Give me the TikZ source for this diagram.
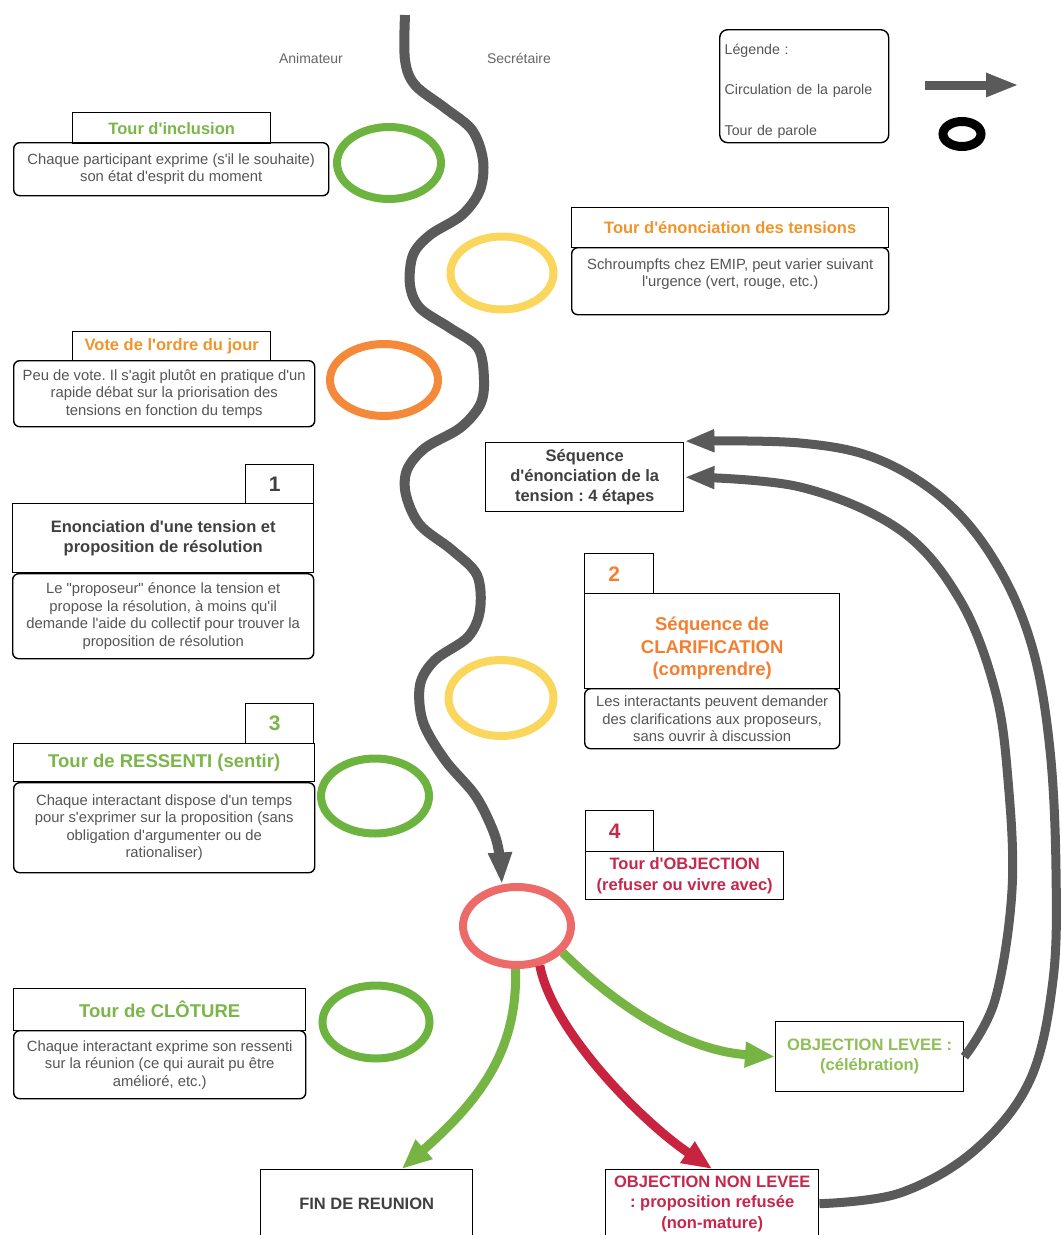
\documentclass[tikz,border=0pt]{standalone}
\usepackage{fontspec}
\setmainfont{Liberation Sans}[Ligatures=TeXOff]
\usetikzlibrary{arrows.meta,shapes.geometric}
\definecolor{ringgreen}{HTML}{6DB33F}
\definecolor{ringyellow}{HTML}{FAD65C}
\definecolor{ringorange}{HTML}{F5893A}
\definecolor{ringred}{HTML}{EC6A68}
\definecolor{tgreen}{HTML}{7AB648}
\definecolor{tlgreen}{HTML}{8DBF55}
\definecolor{torange}{HTML}{F0952B}
\definecolor{tdorange}{HTML}{F47F30}
\definecolor{tred}{HTML}{C8264B}
\definecolor{tdark}{HTML}{404040}
\definecolor{descgray}{HTML}{555555}
\definecolor{lblgray}{HTML}{666666}
\definecolor{flowgray}{HTML}{5A5A5A}
\definecolor{agreen}{HTML}{76B543}
\definecolor{ared}{HTML}{C9243F}
\newcommand\fdesc{\fontsize{14.8}{17.5}\selectfont}
\newcommand\fleg{\fontsize{14.2}{17.5}\selectfont}
\newcommand\ftitle{\fontsize{16.5}{20.3}\selectfont\bfseries}
\newcommand\fbig{\fontsize{18.5}{22.5}\selectfont\bfseries}
\newcommand\fnum{\fontsize{21}{24}\selectfont\bfseries}
\newcommand\flbl{\fontsize{14}{17}\selectfont}
\frenchspacing
\begin{document}
\begin{tikzpicture}[x=1pt,y=-1pt,
  tbox/.style={draw=black, line width=1.4pt, inner sep=0pt, align=center, anchor=north west},
  dbox/.style={tbox, rounded corners=6pt, font=\fdesc, text=descgray},
  ring/.style={ellipse, draw, inner sep=0pt, line width=8pt},
  lbl/.style={font=\flbl, text=lblgray},
  flow/.style={draw=flowgray, line width=10pt, -{Triangle[length=32pt,width=22pt]}},
  arcflow/.style={draw=flowgray, line width=9pt, -{Triangle[length=30pt,width=21pt]}},
  garrow/.style={draw=agreen, line width=9pt, -{Triangle[length=30pt,width=24pt]}},
  rarrow/.style={draw=ared, line width=9pt, -{Triangle[length=30pt,width=24pt]}}]
\useasboundingbox (0,0) rectangle (1061,1235);
\fill[white] (0,0) rectangle (1061,1235);

% column labels
\node[lbl] (anim) at (311,58) {Animateur};
\node[lbl] (secr) at (519,58) {Secrétaire};

% legend
\node[tbox, rounded corners=8pt, minimum width=169pt, minimum height=113pt,
      align=left, text width=159pt, font=\fleg, text=descgray] (leg) at (719,29)
      {\strut\\[-9.5pt]Légende :\\[23pt]Circulation de la parole\\[23pt]Tour de parole};
\coordinate (la1) at (925,85);
\coordinate (la2) at (1019,85);
\draw[draw=flowgray, line width=9pt, -{Triangle[length=33pt,width=22pt]}] (la1) -- (la2);
\node[ring, draw=black, line width=9pt, minimum width=38pt, minimum height=25pt] (lring) at (962,134) {};

% rings
\node[ring, draw=ringgreen, minimum width=104pt, minimum height=72pt] (incR) at (389,163) {};
\node[ring, draw=ringyellow, minimum width=103pt, minimum height=73pt] (tenR) at (502,273) {};
\node[ring, draw=ringorange, minimum width=108pt, minimum height=72pt] (voteR) at (384,380) {};
\node[ring, draw=ringyellow, minimum width=105pt, minimum height=76pt] (clarR) at (501,698) {};
\node[ring, draw=ringgreen, minimum width=108pt, minimum height=75pt] (resR) at (375,796) {};
\node[ring, draw=ringred, minimum width=108pt, minimum height=78pt] (obj) at (517,926) {};
\node[ring, draw=ringgreen, minimum width=107pt, minimum height=73pt] (cloR) at (376,1022) {};

% Tour d'inclusion
\node[tbox, minimum width=198pt, minimum height=31pt, font=\ftitle, text=tgreen] (incT) at (72,112) {Tour d'inclusion};
\node[dbox, minimum width=315pt, minimum height=53pt] (incD) at (13,142)
  {Chaque participant exprime (s'il le souhaite)\\son état d'esprit du moment};

% Tour d'enonciation des tensions
\node[tbox, minimum width=317pt, minimum height=40pt, font=\ftitle, text=torange] (tenT) at (571,207) {Tour d'énonciation des tensions};
\node[dbox, minimum width=317pt, minimum height=67pt] (tenD) at (571,247)
  {Schroumpfts chez EMIP, peut varier suivant\\l'urgence (vert, rouge, etc.)\\\mbox{}};

% Vote
\node[tbox, minimum width=198pt, minimum height=29pt, font=\ftitle, text=torange] (voteT) at (72,331) {Vote de l'ordre du jour};
\node[dbox, minimum width=301pt, minimum height=66pt] (voteD) at (13,360)
  {Peu de vote. Il s'agit plutôt en pratique d'un\\rapide débat sur la priorisation des\\tensions en fonction du temps};

% Sequence
\node[tbox, minimum width=198pt, minimum height=69pt, font=\ftitle, text=tdark] (seq) at (485,442)
  {Séquence\\d'énonciation de la\\tension : 4 étapes};

% 1
\node[tbox, minimum width=68pt, minimum height=39pt, font=\fnum, text=tdark] (n1) at (245,464) {1\hspace{10pt}};
\node[tbox, minimum width=301pt, minimum height=69pt, font=\ftitle, text=tdark] (enT) at (12,503)
  {Enonciation d'une tension et\\proposition de résolution};
\node[dbox, minimum width=301pt, minimum height=85pt] (enD) at (12,573)
  {Le "proposeur" énonce la tension et\\propose la résolution, à moins qu'il\\demande l'aide du collectif pour trouver la\\proposition de résolution};

% 2
\node[tbox, minimum width=69pt, minimum height=40pt, font=\fnum, text=tdorange] (n2) at (584,553) {2\hspace{10pt}};
\node[tbox, minimum width=255pt, minimum height=95pt, font=\fbig, text=tdorange] (clT) at (584,593)
  {\strut\\[-10.5pt]Séquence de\\CLARIFICATION\\(comprendre)};
\node[dbox, minimum width=255pt, minimum height=60pt] (clD) at (584,688)
  {Les interactants peuvent demander\\des clarifications aux proposeurs,\\sans ouvrir à discussion};

% 3
\node[tbox, minimum width=68pt, minimum height=40pt, font=\fnum, text=tgreen] (n3) at (245,703) {3\hspace{10pt}};
\node[tbox, minimum width=301pt, minimum height=38pt, font=\fbig, text=tgreen] (resT) at (13,743) {Tour de RESSENTI (sentir)};
\node[dbox, minimum width=301pt, minimum height=90pt] (resD) at (13,782)
  {Chaque interactant dispose d'un temps\\pour s'exprimer sur la proposition (sans\\obligation d'argumenter ou de\\rationaliser)};

% 4
\node[tbox, minimum width=68pt, minimum height=41pt, font=\fnum, text=tred] (n4) at (585,810) {4\hspace{10pt}};
\node[tbox, minimum width=198pt, minimum height=48pt, font=\ftitle, text=tred] (objT) at (585,851)
  {Tour d'OBJECTION\\(refuser ou vivre avec)};

% Cloture
\node[tbox, minimum width=292pt, minimum height=42pt, font=\fbig, text=tgreen] (cloT) at (13,988) {Tour de CLÔTURE};
\node[dbox, minimum width=292pt, minimum height=68pt] (cloD) at (13,1030)
  {Chaque interactant exprime son ressenti\\sur la réunion (ce qui aurait pu être\\amélioré, etc.)};

% outcomes
\node[tbox, minimum width=188pt, minimum height=70pt, font=\ftitle, text=tlgreen] (levee) at (775,1021)
  {OBJECTION LEVEE :\\(célébration)};
\node[tbox, minimum width=212pt, minimum height=68pt, font=\ftitle, text=tdark] (fin) at (260,1169) {FIN DE REUNION};
\node[tbox, minimum width=213pt, minimum height=68pt, font=\ftitle, text=tred] (nonl) at (605,1169)
  {OBJECTION NON LEVEE\\: proposition refusée\\(non-mature)};

% main flow
\coordinate (start) at (405,15);
\draw[flow] plot[smooth, tension=0.55] coordinates {(start) (405,60) (415,85) (445,108) (472,130) (483,160) (480,190)
  (462,215) (430,235) (413,255) (410,285) (420,308) (450,328) (478,348) (484,380) (480,405) (460,428)
  (425,448) (407,470) (406,495) (420,525) (452,550) (477,575) (480,610) (468,637) (435,660) (420,685)
  (423,722) (445,760) (475,795) (492,828) (499,852) (obj.110)};

% outcome arrows
\draw[garrow] (obj.268) .. controls (518,1050) and (480,1100) .. ([xshift=35pt]fin.north);
\draw[rarrow] (obj.300) .. controls (552,1030) and (640,1120) .. (nonl.north);
\draw[garrow] (obj.330) .. controls (610,1000) and (680,1050) .. (levee.west);

% return arcs
\draw[arcflow] plot[smooth, tension=0.6] coordinates {(levee.east) (995,1000) (1012,890) (1008,780) (995,690)
  (960,600) (900,530) (800,487) (seq.east)};
\draw[arcflow] plot[smooth, tension=0.6] coordinates {(nonl.east) (900,1193) (975,1150) (1030,1080) (1053,980)
  (1056,870) (1050,750) (1033,650) (1000,570) (950,505) (880,460) (800,443) ([yshift=36pt]seq.east)};
\end{tikzpicture}
\end{document}
